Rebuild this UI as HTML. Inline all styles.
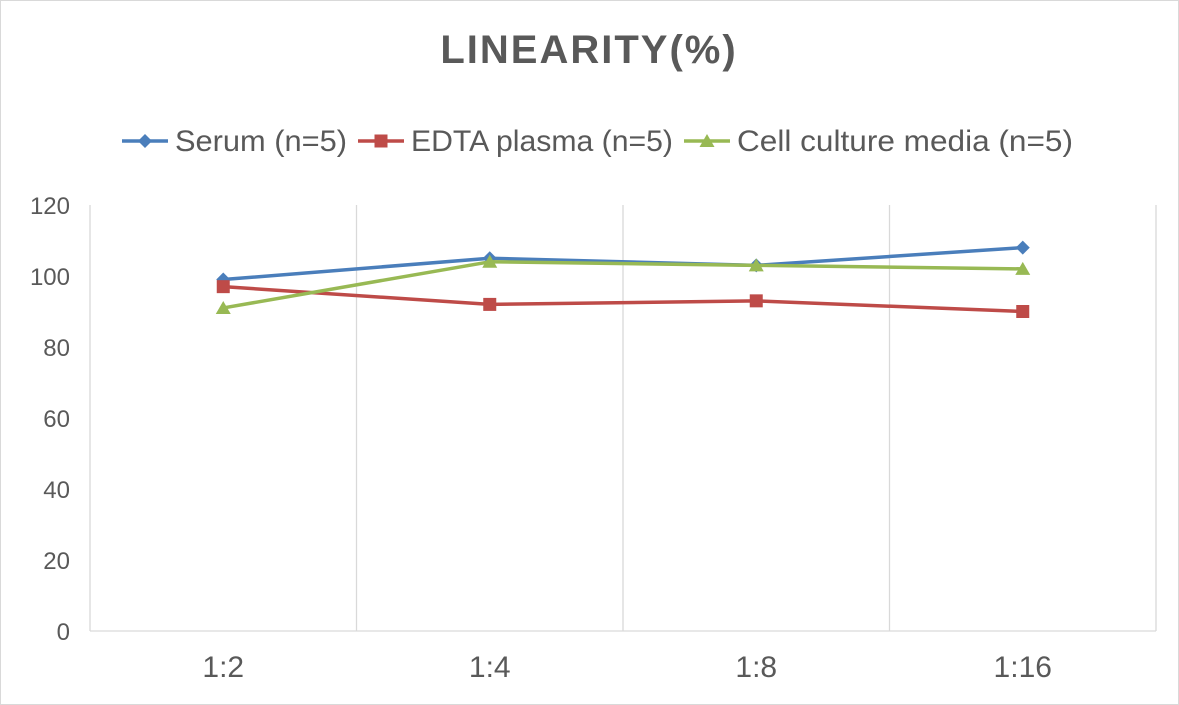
<!DOCTYPE html>
<html><head><meta charset="utf-8"><style>
html,body{margin:0;padding:0;background:#fff;}
svg{display:block;font-family:"Liberation Sans","DejaVu Sans",sans-serif;}
</style></head><body>
<svg id="chart" width="1179" height="705" viewBox="0 0 1179 705">
<rect x="0.5" y="0.5" width="1178" height="704" fill="#fff" stroke="#d9d9d9"/>
<text x="589" y="63" text-anchor="middle" font-size="40" font-weight="bold" fill="#595959" letter-spacing="2">LINEARITY(%)</text>
<g id="legend"></g>
<g id="grid"></g>
<g id="axes"></g>
<g id="series"></g>
</svg>
<script>
const categories = ["1:2","1:4","1:8","1:16"];
const serum = [99,105,103,108];
const edta = [97,92,93,90];
const cell = [91,104,103,102];
const yTicks = [0,20,40,60,80,100,120];
const seriesNames = ["Serum (n=5)","EDTA plasma (n=5)","Cell culture media (n=5)"];

const NS="http://www.w3.org/2000/svg";
const L=90,R=1156,T=205,B=631,yMax=120;
const band=(R-L)/categories.length;
const xPos=i=>L+band*(i+0.5);
const yPos=v=>B-(v/yMax)*(B-T);
function mk(tag,attrs,parent){const e=document.createElementNS(NS,tag);for(const k in attrs)e.setAttribute(k,attrs[k]);parent.appendChild(e);return e;}
const grid=document.getElementById('grid'),axes=document.getElementById('axes'),ser=document.getElementById('series'),leg=document.getElementById('legend');
for(let i=0;i<=categories.length;i++){
  const l=mk('line',{x1:L+band*i,x2:L+band*i,y1:T,y2:B,stroke:'#d9d9d9','stroke-width':1.3},grid);
  
  
}
const ax=mk('line',{x1:L,x2:R,y1:B,y2:B,stroke:'#d9d9d9','stroke-width':1.3},axes);


yTicks.forEach(v=>{
  const t=mk('text',{x:70,y:yPos(v)+9,'text-anchor':'end','font-size':24,fill:'#595959'},axes);
  t.textContent=v;
  
  
});
categories.forEach((c,i)=>{
  const t=mk('text',{x:xPos(i),y:677,'text-anchor':'middle','font-size':30,fill:'#595959'},axes);
  t.textContent=c;
  
  
});
function marker(g,type,x,y,color){
  let m;
  if(type==='diamond')m=mk('path',{d:`M${x} ${y-7}L${x+7} ${y}L${x} ${y+7}L${x-7} ${y}Z`,fill:color},g);
  else if(type==='square')m=mk('rect',{x:x-6.5,y:y-6.5,width:13,height:13,fill:color},g);
  else m=mk('path',{d:`M${x} ${y-7}L${x+7.5} ${y+6}L${x-7.5} ${y+6}Z`,fill:color},g);
  return m;
}
const defs=[[serum,'#4a7ebb','diamond'],[edta,'#be4b48','square'],[cell,'#98b954','triangle']];
defs.forEach(([vals,color,type],si)=>{
  const g=mk('g',{},ser);
  
  
  const p=mk('polyline',{points:vals.map((v,i)=>xPos(i)+','+yPos(v)).join(' '),fill:'none',stroke:color,'stroke-width':3.5,'stroke-linejoin':'round'},g);
  
  
  vals.forEach((v,i)=>{
    const m=marker(g,type,xPos(i),yPos(v),color);
    
    
  });
});
const legX=[122,358,684];
const legW=[172,262,336];
defs.forEach(([vals,color,type],si)=>{
  const g=mk('g',{},leg);
  
  
  mk('line',{x1:legX[si],x2:legX[si]+46,y1:141,y2:141,stroke:color,'stroke-width':3.5},g);
  marker(g,type,legX[si]+23,141,color);
  const t=mk('text',{x:legX[si]+53,y:151,'font-size':30,fill:'#595959',textLength:legW[si],lengthAdjust:'spacingAndGlyphs'},g);
  t.textContent=seriesNames[si];
});
</script>
</body></html>
